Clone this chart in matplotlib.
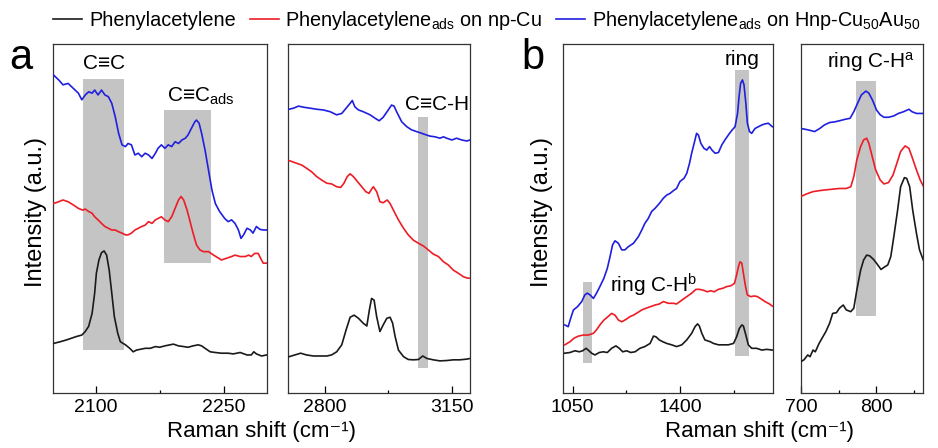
import matplotlib
matplotlib.use("Agg")
import matplotlib.pyplot as plt
from matplotlib.ticker import MultipleLocator

plt.rcParams['font.family'] = ['Liberation Sans', 'DejaVu Sans']
plt.rcParams['mathtext.fontset'] = 'custom'
plt.rcParams['mathtext.rm'] = 'Liberation Sans'
plt.rcParams['mathtext.it'] = 'Liberation Sans:italic'

# ---- panel a, left (C≡C region) ----
a1_blue_x = [2051, 2057, 2062, 2068, 2074, 2080, 2084, 2088, 2092, 2096, 2099, 2103, 2107, 2111, 2115,
             2119, 2123, 2127, 2131, 2135, 2138, 2142, 2146, 2150, 2154, 2158, 2162, 2166, 2170, 2173,
             2177, 2181, 2185, 2189, 2193, 2197, 2201, 2205, 2208, 2212, 2216, 2218, 2221, 2224, 2228,
             2232, 2236, 2240, 2245, 2251, 2255, 2259, 2263, 2267, 2270, 2273, 2277, 2281, 2284, 2288,
             2292, 2296, 2300]
a1_blue_y = [91.1, 89.7, 88.3, 88.7, 87.3, 85.9, 84.0, 85.4, 86.3, 85.9, 86.8, 85.4, 86.8, 85.4, 84.9,
             83.0, 79.2, 74.4, 71.1, 70.6, 71.5, 71.1, 68.2, 68.7, 67.7, 68.7, 68.2, 67.2, 68.7, 70.1,
             71.1, 70.1, 71.1, 70.6, 72.0, 71.5, 72.5, 73.0, 73.9, 75.8, 77.7, 78.2, 77.3, 74.4, 69.6,
             63.9, 58.2, 54.3, 52.0, 50.0, 49.1, 49.6, 48.6, 46.7, 44.3, 45.3, 47.2, 46.7, 45.8, 47.7,
             46.9, 46.7, 46.7]
a1_red_x = [2051, 2057, 2062, 2068, 2074, 2080, 2085, 2088, 2092, 2096, 2099, 2103, 2107, 2111, 2115,
            2119, 2123, 2127, 2131, 2135, 2138, 2142, 2146, 2150, 2154, 2158, 2162, 2166, 2170, 2173,
            2177, 2181, 2185, 2189, 2193, 2197, 2200, 2203, 2207, 2210, 2214, 2218, 2222, 2226, 2232,
            2238, 2244, 2247, 2253, 2259, 2263, 2269, 2275, 2279, 2282, 2286, 2290, 2294, 2296, 2300]
a1_red_y = [54.3, 54.8, 55.3, 54.8, 53.9, 52.9, 52.4, 52.7, 52.0, 51.5, 50.5, 49.6, 48.6, 47.7, 47.2,
            46.7, 46.7, 46.2, 45.8, 45.3, 45.3, 45.8, 46.7, 47.2, 47.7, 48.1, 49.1, 48.6, 49.6, 50.0,
            50.5, 49.6, 49.1, 50.5, 52.9, 55.3, 56.3, 55.3, 52.4, 49.6, 45.8, 42.4, 41.0, 40.5, 40.5,
            39.5, 38.6, 38.1, 38.6, 39.1, 39.5, 39.1, 39.1, 39.5, 39.1, 40.0, 40.0, 38.1, 37.2, 37.2]
a1_black_x = [2051, 2059, 2066, 2072, 2078, 2084, 2088, 2092, 2096, 2099, 2101, 2104, 2107, 2110, 2113,
              2116, 2119, 2122, 2126, 2129, 2135, 2140, 2144, 2148, 2152, 2158, 2164, 2170, 2175, 2181,
              2187, 2191, 2197, 2203, 2208, 2214, 2220, 2224, 2228, 2234, 2240, 2247, 2255, 2261, 2269,
              2277, 2282, 2285, 2288, 2294, 2300]
a1_black_y = [14.2, 14.7, 15.2, 15.7, 16.2, 16.6, 17.6, 19.1, 22.8, 28.6, 34.3, 38.1, 40.2, 40.7, 39.5,
              35.2, 28.6, 21.9, 17.1, 14.7, 13.8, 12.8, 11.8, 12.3, 12.5, 12.8, 12.8, 13.3, 13.1, 13.5,
              13.8, 14.0, 13.5, 13.3, 13.1, 13.5, 13.8, 13.5, 12.8, 11.8, 11.6, 11.4, 11.4, 11.2, 11.6,
              10.9, 10.9, 11.8, 11.2, 10.6, 10.9]

# ---- panel a, right (C-H region) ----
a2_blue_x = [2702, 2714, 2728, 2741, 2760, 2778, 2796, 2815, 2833, 2847, 2859, 2870, 2876, 2883, 2893,
             2906, 2925, 2939, 2950, 2961, 2975, 2984, 2991, 2998, 3012, 3026, 3039, 3053, 3067, 3081,
             3090, 3104, 3117, 3127, 3136, 3150, 3163, 3177, 3191, 3200]
a2_blue_y = [81.3, 81.6, 82.2, 81.9, 81.6, 81.3, 81.1, 80.6, 79.7, 80.1, 81.6, 83.0, 83.8, 82.0, 81.1,
             80.6, 79.7, 78.7, 78.0, 79.0, 81.1, 82.5, 82.2, 80.6, 77.7, 76.3, 75.4, 74.9, 74.4, 73.9,
             73.6, 73.4, 73.0, 73.4, 73.0, 72.5, 73.0, 72.5, 72.2, 72.5]
a2_red_x = [2702, 2718, 2737, 2750, 2764, 2778, 2792, 2806, 2819, 2833, 2844, 2853, 2862, 2870, 2879,
            2890, 2902, 2913, 2922, 2929, 2934, 2943, 2952, 2961, 2972, 2980, 2991, 3003, 3017, 3030,
            3044, 3058, 3072, 3085, 3099, 3113, 3127, 3140, 3154, 3168, 3182, 3193, 3200]
a2_red_y = [66.6, 66.0, 65.3, 64.4, 63.4, 62.0, 61.0, 60.1, 59.9, 59.1, 58.9, 60.1, 62.0, 62.8, 62.0,
            60.6, 59.1, 57.7, 57.2, 58.4, 59.1, 57.7, 54.8, 54.5, 55.3, 54.3, 52.0, 49.6, 47.2, 45.3,
            43.8, 42.9, 42.1, 41.0, 39.8, 39.1, 37.6, 36.7, 35.2, 34.3, 33.3, 32.9, 32.9]
a2_black_x = [2702, 2718, 2734, 2750, 2769, 2787, 2806, 2819, 2833, 2847, 2859, 2870, 2881, 2893, 2906,
              2916, 2923, 2929, 2936, 2943, 2952, 2961, 2971, 2980, 2987, 2994, 3003, 3017, 3030, 3044,
              3058, 3070, 3081, 3099, 3117, 3136, 3154, 3172, 3191, 3200]
a2_black_y = [10.4, 10.9, 11.4, 10.9, 10.6, 10.6, 10.6, 10.9, 11.8, 13.8, 18.1, 21.7, 22.3, 21.4, 20.0,
              19.2, 23.8, 27.1, 26.6, 21.9, 17.6, 19.5, 21.4, 21.7, 20.0, 16.1, 12.3, 10.4, 9.6, 9.5,
              9.6, 10.6, 9.9, 9.5, 9.2, 9.3, 9.5, 9.5, 9.7, 9.9]

# ---- panel b, left (ring region) ----
b1_blue_x = [1025, 1036, 1044, 1053, 1066, 1080, 1090, 1098, 1107, 1118, 1128, 1139, 1152, 1163, 1172,
             1180, 1188, 1199, 1210, 1220, 1231, 1248, 1264, 1275, 1285, 1296, 1307, 1318, 1332, 1345,
             1356, 1367, 1378, 1388, 1399, 1412, 1421, 1430, 1437, 1445, 1453, 1459, 1467, 1477, 1486,
             1495, 1503, 1513, 1524, 1535, 1545, 1560, 1569, 1578, 1586, 1591, 1596, 1602, 1607, 1613,
             1618, 1625, 1632, 1643, 1654, 1665, 1675, 1686, 1699]
b1_blue_y = [19.5, 19.0, 21.4, 23.8, 24.7, 26.2, 28.1, 28.6, 28.1, 27.1, 28.6, 30.5, 32.9, 35.7, 39.1,
             42.4, 43.6, 42.9, 41.0, 41.0, 41.9, 42.9, 44.8, 46.7, 48.6, 50.0, 52.0, 52.9, 54.3, 55.8,
             56.7, 57.2, 58.0, 58.6, 60.6, 61.5, 62.9, 65.8, 68.7, 71.5, 74.4, 73.9, 71.5, 70.1, 69.6,
             70.6, 69.6, 68.7, 68.9, 71.1, 72.5, 74.4, 75.4, 76.3, 80.1, 84.9, 88.7, 89.7, 88.3, 83.0,
             77.3, 74.9, 74.4, 75.8, 76.3, 76.8, 77.1, 77.3, 76.3]
b1_red_x = [1025, 1042, 1055, 1069, 1085, 1101, 1118, 1128, 1139, 1152, 1163, 1177, 1188, 1199, 1210,
            1224, 1237, 1248, 1261, 1275, 1289, 1302, 1318, 1332, 1345, 1361, 1378, 1388, 1405, 1421,
            1437, 1451, 1462, 1473, 1488, 1499, 1510, 1524, 1538, 1551, 1564, 1576, 1583, 1589, 1594,
            1600, 1605, 1612, 1618, 1629, 1640, 1651, 1665, 1675, 1690, 1699]
b1_red_y = [13.8, 14.7, 15.7, 16.3, 16.6, 16.6, 17.1, 18.1, 19.5, 20.9, 21.7, 22.8, 22.3, 20.9, 20.4,
            21.1, 21.9, 22.3, 23.0, 23.8, 24.3, 24.7, 25.2, 25.5, 26.2, 25.7, 25.7, 25.5, 26.6, 27.6,
            28.6, 29.7, 29.7, 29.5, 29.0, 29.3, 29.0, 29.7, 30.0, 30.5, 30.7, 31.4, 33.8, 36.2, 37.6,
            37.2, 34.3, 30.5, 28.1, 27.6, 27.8, 27.6, 26.8, 26.2, 25.5, 24.9]
b1_black_x = [1025, 1042, 1058, 1072, 1083, 1094, 1101, 1112, 1123, 1137, 1150, 1163, 1177, 1191, 1202,
              1213, 1226, 1239, 1253, 1269, 1285, 1302, 1313, 1321, 1332, 1343, 1356, 1372, 1388, 1405,
              1421, 1437, 1448, 1456, 1462, 1470, 1480, 1497, 1508, 1524, 1540, 1556, 1573, 1583, 1592,
              1600, 1605, 1613, 1621, 1632, 1648, 1665, 1681, 1699]
b1_black_y = [11.4, 11.6, 12.1, 11.8, 12.1, 12.8, 12.3, 11.4, 10.9, 11.6, 11.8, 11.6, 12.8, 13.5, 12.8,
              11.8, 12.1, 11.6, 11.8, 12.8, 13.3, 14.2, 16.3, 16.1, 15.2, 14.7, 14.2, 13.8, 13.3, 13.8,
              15.2, 17.1, 19.0, 19.8, 19.2, 17.1, 15.2, 14.7, 14.2, 13.8, 13.8, 13.8, 14.2, 16.1, 18.5,
              19.5, 19.2, 16.6, 13.8, 12.8, 12.8, 12.3, 12.5, 12.3]

# ---- panel b, right (ring C-H region) ----
b2_blue_x = [700, 707, 713, 718, 725, 731, 738, 745, 751, 758, 765, 770, 776, 780, 786, 790, 795, 800,
             805, 810, 816, 823, 829, 836, 843, 847, 853, 858, 862]
b2_blue_y = [75.8, 75.5, 75.2, 74.9, 75.8, 76.8, 77.5, 77.7, 78.0, 78.4, 78.7, 80.6, 83.5, 85.4, 86.5,
             85.9, 83.8, 81.1, 79.7, 79.0, 79.0, 79.4, 80.1, 80.6, 81.3, 80.6, 80.1, 80.1, 80.1]
b2_red_x = [700, 707, 716, 725, 733, 742, 751, 760, 766, 770, 774, 779, 783, 787, 790, 795, 799, 805,
            810, 816, 822, 827, 832, 838, 843, 847, 853, 858, 862]
b2_red_y = [56.3, 57.0, 57.7, 58.0, 58.2, 58.4, 58.6, 58.6, 59.1, 62.0, 66.8, 70.6, 72.5, 73.0, 71.5,
            67.2, 63.9, 61.0, 59.9, 60.3, 62.5, 65.8, 69.2, 70.8, 70.1, 67.7, 63.9, 61.0, 59.3]
b2_black_x = [700, 704, 709, 712, 716, 719, 724, 729, 733, 738, 742, 747, 751, 756, 760, 766, 770, 774,
              779, 783, 787, 791, 796, 800, 806, 810, 815, 819, 823, 828, 832, 837, 840, 844, 848, 853,
              857, 862]
b2_black_y = [9.0, 9.5, 10.9, 10.4, 12.3, 11.8, 14.2, 16.1, 17.6, 20.0, 22.8, 23.0, 24.3, 25.2, 23.8,
              23.3, 24.3, 29.5, 35.2, 38.1, 39.5, 39.3, 38.3, 37.2, 35.4, 36.0, 36.7, 39.1, 44.8, 52.4,
              59.1, 61.7, 61.5, 59.1, 52.4, 45.7, 41.0, 38.1]

# highlighted bands: (x_from, x_to, y_from, y_to)
a1_bands = [(2085, 2133, 12.3, 89.9), (2180, 2235, 37.3, 81.1)]
a2_bands = [(3058, 3083, 7.2, 79.1)]
b1_bands = [(1579, 1622, 10.6, 92.6), (1085, 1112, 8.7, 31.7)]
b2_bands = [(773, 799, 22.2, 89.4)]

labels = ['Phenylacetylene',
          r'Phenylacetylene$_{\rm ads}$ on np-Cu',
          r'Phenylacetylene$_{\rm ads}$ on Hnp-Cu$_{\rm 50}$Au$_{\rm 50}$']
colors = ['#1a1a1a', '#ee1c25', '#1f1fe0']
band_color = '#c4c4c4'

fig = plt.figure(figsize=(9.38, 4.48), dpi=100)
bot, hgt = 0.1228, 0.779
ax_a1 = fig.add_axes([0.0562, bot, 0.2281, hgt])
ax_a2 = fig.add_axes([0.3074, bot, 0.1937, hgt])
ax_b1 = fig.add_axes([0.6005, bot, 0.2232, hgt])
ax_b2 = fig.add_axes([0.8539, bot, 0.1304, hgt])

panels = [
    (ax_a1, (a1_black_x, a1_black_y), (a1_red_x, a1_red_y), (a1_blue_x, a1_blue_y), a1_bands,
     (2050, 2300), [2100, 2250], 75),
    (ax_a2, (a2_black_x, a2_black_y), (a2_red_x, a2_red_y), (a2_blue_x, a2_blue_y), a2_bands,
     (2700, 3200), [2800, 3150], 175),
    (ax_b1, (b1_black_x, b1_black_y), (b1_red_x, b1_red_y), (b1_blue_x, b1_blue_y), b1_bands,
     (1020, 1700), [1050, 1400], 175),
    (ax_b2, (b2_black_x, b2_black_y), (b2_red_x, b2_red_y), (b2_blue_x, b2_blue_y), b2_bands,
     (700, 862), [700, 800], 50),
]

handles = []
for ax, blk, red, blu, bands, xlim, ticks, minor in panels:
    for x0, x1, y0, y1 in bands:
        ax.fill_between([x0, x1], [y0, y0], [y1, y1], color=band_color, lw=0, zorder=1)
    lines = []
    for (xs, ys), c, lab in zip([blk, red, blu], colors, labels):
        ln, = ax.plot(xs, ys, color=c, lw=1.2, label=lab, zorder=3)
        lines.append(ln)
    if not handles:
        handles = lines
    ax.set_xlim(*xlim)
    ax.set_ylim(0, 100)
    ax.set_xticks(ticks)
    ax.xaxis.set_minor_locator(MultipleLocator(minor))
    ax.set_yticks([])
    ax.tick_params(axis='x', which='major', direction='in', length=5, width=0.9,
                   labelsize=14, pad=4)
    ax.tick_params(axis='x', which='minor', direction='in', length=2.5, width=0.9)
    for sp in ax.spines.values():
        sp.set_linewidth(0.9)
        sp.set_color('#333333')

# band annotations
ax_a1.text(2110, 92.7, 'C≡C', fontsize=15, ha='center', va='baseline')
ax_a1.text(2183, 83.5, r'C≡C$_{\rm ads}$', fontsize=15, ha='left', va='baseline')
ax_a2.text(3198, 81.1, 'C≡C-H', fontsize=15, ha='right', va='baseline')
ax_b1.text(1602, 94.0, 'ring', fontsize=15, ha='center', va='baseline')
ax_b1.text(1172, 28.7, r'ring C-H$^{\rm b}$', fontsize=15, ha='left', va='baseline')
ax_b2.text(735, 93.1, r'ring C-H$^{\rm a}$', fontsize=15, ha='left', va='baseline')

# panel letters
fig.text(0.010, 0.845, 'a', fontsize=30, ha='left', va='baseline')
fig.text(0.556, 0.845, 'b', fontsize=30, ha='left', va='baseline')

# axis labels
fig.text(0.038, 0.527, 'Intensity (a.u.)', fontsize=17, rotation=90, ha='center', va='center')
fig.text(0.578, 0.527, 'Intensity (a.u.)', fontsize=17, rotation=90, ha='center', va='center')
fig.text(0.279, 0.036, 'Raman shift (cm⁻¹)', fontsize=16, ha='center', va='center')
fig.text(0.810, 0.036, 'Raman shift (cm⁻¹)', fontsize=16, ha='center', va='center')

fig.legend(handles=handles, labels=labels, loc='center', bbox_to_anchor=(0.519, 0.955),
           ncol=3, frameon=False, fontsize=14.3, handlelength=1.45, handletextpad=0.35,
           columnspacing=0.7, borderpad=0.1, borderaxespad=0)

fig.savefig('out.png', dpi=100)
